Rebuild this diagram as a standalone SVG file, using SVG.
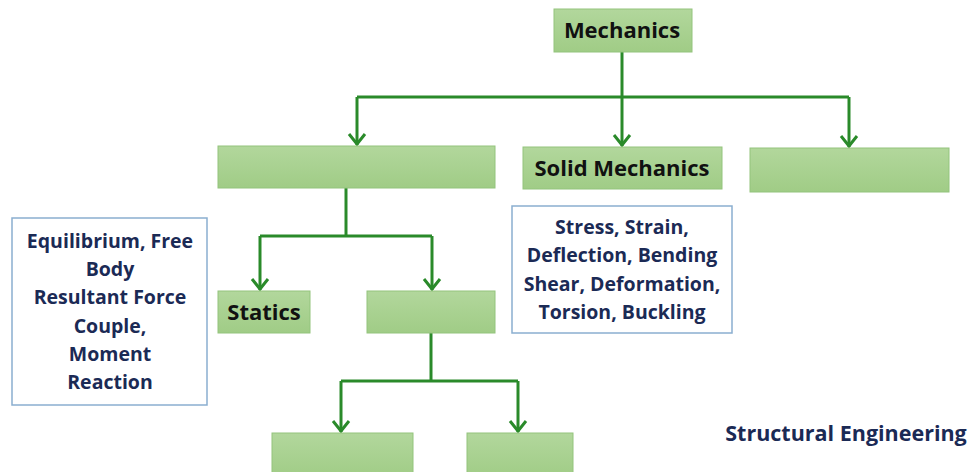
<svg xmlns="http://www.w3.org/2000/svg" width="970" height="472" viewBox="0 0 970 472">
<style>
.box{fill:url(#g);stroke:#93c47d;stroke-width:1}
.info{fill:#fff;stroke:#8aaed0;stroke-width:1.5}
.lbl{font-family:"Open Sans","Liberation Sans",sans-serif;font-weight:bold;font-size:22px;fill:#111;text-anchor:middle}
.desc{font-family:"Open Sans","Liberation Sans",sans-serif;font-weight:bold;font-size:19.5px;fill:#1b2a55;text-anchor:middle}
.con{fill:none;stroke:#2a8a2a;stroke-width:3}
</style>
<defs>
<linearGradient id="g" x1="0" y1="0" x2="0" y2="1">
<stop offset="0" stop-color="#b2d79c"/>
<stop offset="1" stop-color="#a0cc86"/>
</linearGradient>
<marker id="arr" viewBox="0 0 20 20" refX="18" refY="10" markerWidth="20" markerHeight="20" markerUnits="userSpaceOnUse" orient="auto">
<polyline points="7,2 17,10 7,18" fill="none" stroke="#2a8a2a" stroke-width="3"/>
</marker>
</defs>
<rect width="970" height="472" fill="#fff"/>
<g id="connectors">
<path class="con" d="M622,52 V97"/>
<path class="con" d="M357,97 H849"/>
<path class="con" d="M357,97 V145" marker-end="url(#arr)"/>
<path class="con" d="M622,97 V146" marker-end="url(#arr)"/>
<path class="con" d="M849,97 V147" marker-end="url(#arr)"/>
<path class="con" d="M346,188 V236"/>
<path class="con" d="M260,236 H432"/>
<path class="con" d="M260,236 V290" marker-end="url(#arr)"/>
<path class="con" d="M432,236 V290" marker-end="url(#arr)"/>
<path class="con" d="M431,333 V381"/>
<path class="con" d="M341,381 H518"/>
<path class="con" d="M341,381 V432" marker-end="url(#arr)"/>
<path class="con" d="M518,381 V432" marker-end="url(#arr)"/>
</g>
<g id="mechanics"><rect class="box" x="554" y="9" width="138" height="43"/><text class="lbl" x="622" y="38">Mechanics</text></g>
<g id="blank1"><rect class="box" x="218" y="146" width="277" height="42"/></g>
<g id="solid"><rect class="box" x="523" y="147" width="199" height="42"/><text class="lbl" x="622" y="176">Solid Mechanics</text></g>
<g id="blank2"><rect class="box" x="750" y="148" width="199" height="44"/></g>
<g id="stress"><rect class="info" x="512" y="206" width="220" height="127"/>
<text class="desc" x="622" y="234">Stress, Strain,</text>
<text class="desc" x="622" y="262">Deflection, Bending</text>
<text class="desc" x="622" y="291">Shear, Deformation,</text>
<text class="desc" x="622" y="319">Torsion, Buckling</text></g>
<g id="equil"><rect class="info" x="12" y="218" width="195" height="187"/>
<text class="desc" x="110" y="248">Equilibrium, Free</text>
<text class="desc" x="110" y="276">Body</text>
<text class="desc" x="110" y="304">Resultant Force</text>
<text class="desc" x="110" y="333">Couple,</text>
<text class="desc" x="110" y="361">Moment</text>
<text class="desc" x="110" y="389">Reaction</text></g>
<g id="statics"><rect class="box" x="218" y="291" width="92" height="42"/><text class="lbl" x="264" y="320">Statics</text></g>
<g id="blank3"><rect class="box" x="367" y="291" width="128" height="42"/></g>
<g id="blank4"><rect class="box" x="272" y="433" width="141" height="45"/></g>
<g id="blank5"><rect class="box" x="467" y="433" width="106" height="45"/></g>
<g id="structural"><text class="desc" x="846" y="441" style="font-size:21.5px">Structural Engineering</text></g>
</svg>
